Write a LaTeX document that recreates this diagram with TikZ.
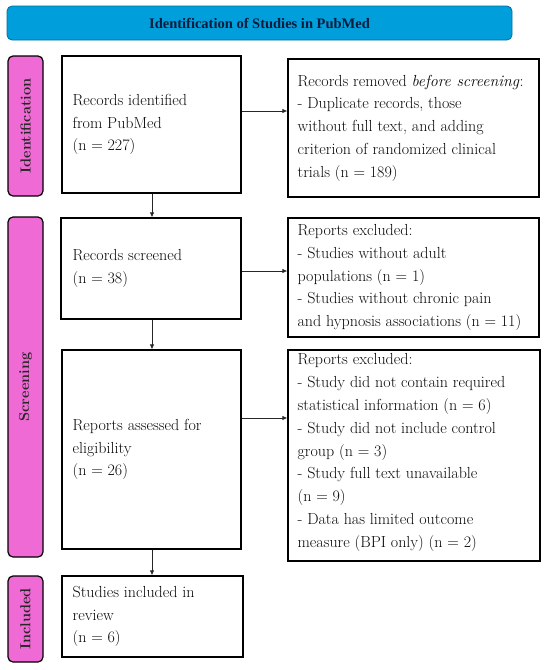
\documentclass[tikz,border=0pt]{standalone}
\usepackage{fontspec}
\newfontfamily\titlefont{Liberation Serif}
\usetikzlibrary{arrows.meta}
\definecolor{bannerblue}{RGB}{0,158,219}
\definecolor{bannerline}{RGB}{0,110,160}
\definecolor{stagepink}{RGB}{240,106,214}
\definecolor{titleink}{RGB}{12,28,60}
\definecolor{bodyink}{RGB}{10,10,10}
\tikzset{
  flowbox/.style={draw=black, line width=1.2pt, fill=white, inner sep=0pt},
  stagebar/.style={draw=black, line width=1.2pt, fill=stagepink, rounded corners=5pt, inner sep=0pt},
  stagelabel/.style={rotate=90, font=\fontsize{14.5}{16}\selectfont\bfseries, text=black!85},
  bodytext/.style={anchor=west, align=left, inner sep=0pt, text=bodyink,
    font=\fontsize{16}{22.8}\selectfont},
  flowarrow/.style={draw=black!85, line width=0.8pt, -{Latex[length=5pt,width=4.5pt]}}
}
\begin{document}
\begin{tikzpicture}[x=1pt,y=-1pt]
\useasboundingbox (0,0) rectangle (550,670);
% banner
\node[draw=bannerline, line width=0.8pt, fill=bannerblue, rounded corners=5pt,
  minimum width=505pt, minimum height=34pt, inner sep=0pt,
  font=\titlefont\fontsize{14.5}{16}\selectfont\bfseries, text=titleink]
  (banner) at (259.5,23) {Identification of Studies in PubMed};
% stage bars
\node[stagebar, minimum width=35pt, minimum height=140pt] (barid) at (25.5,126) {};
\node[stagelabel] (labid) at (barid.center) {Identification};
\node[stagebar, minimum width=35pt, minimum height=340pt] (barscr) at (25.5,387) {};
\node[stagelabel] (labscr) at (barscr.center) {Screening};
\node[stagebar, minimum width=35pt, minimum height=86pt] (barinc) at (25.5,619) {};
\node[stagelabel] (labinc) at (barinc.center) {Included};
% left boxes
\node[flowbox, minimum width=179pt, minimum height=137pt] (b1) at (151.5,124.5) {};
\node[bodytext] (t1) at ([xshift=11pt]b1.west) {Records identified\\from PubMed\\(n = 227)};
\node[flowbox, minimum width=180pt, minimum height=101pt] (b2) at (151,268.5) {};
\node[bodytext] (t2) at ([xshift=12pt]b2.west) {Records screened\\(n = 38)};
\node[flowbox, minimum width=179pt, minimum height=199pt] (b3) at (151.5,449.5) {};
\node[bodytext] (t3) at ([xshift=11pt]b3.west) {Reports assessed for\\eligibility\\(n = 26)};
\node[flowbox, minimum width=181pt, minimum height=81pt] (b4) at (152.5,616.5) {};
\node[bodytext] (t4) at ([xshift=11pt]b4.west) {Studies included in\\review\\(n = 6)};
% right boxes
\node[flowbox, minimum width=251pt, minimum height=138pt] (r1) at (413.5,128) {};
\node[bodytext] (u1) at ([xshift=10pt]r1.west) {Records removed \emph{before screening}:\\- Duplicate records, those\\without full text, and adding\\criterion of randomized clinical\\trials (n = 189)};
\node[flowbox, minimum width=251pt, minimum height=119pt] (r2) at (413.5,277.5) {};
\node[bodytext] (u2) at ([xshift=10pt]r2.west) {Reports excluded:\\- Studies without adult\\populations (n = 1)\\- Studies without chronic pain\\and hypnosis associations (n = 11)};
\node[flowbox, minimum width=252pt, minimum height=211pt] (r3) at (414,455.5) {};
\node[bodytext] (u3) at ([xshift=10pt,yshift=3pt]r3.west) {Reports excluded:\\- Study did not contain required\\statistical information (n = 6)\\- Study did not include control\\group (n = 3)\\- Study full text unavailable\\(n = 9)\\- Data has limited outcome\\measure (BPI only) (n = 2)};
% connector helper coordinates
\coordinate (vx) at (152,0);
\coordinate (h1) at (0,111);
\coordinate (h2) at (0,271);
\coordinate (h3) at (0,418);
% horizontal arrows
\draw[flowarrow] (b1.east |- h1) -- (r1.west |- h1);
\draw[flowarrow] (b2.east |- h2) -- (r2.west |- h2);
\draw[flowarrow] (b3.east |- h3) -- (r3.west |- h3);
% vertical arrows
\draw[flowarrow] (b1.south -| vx) -- (b2.north -| vx);
\draw[flowarrow] (b2.south -| vx) -- (b3.north -| vx);
\draw[flowarrow] (b3.south -| vx) -- (b4.north -| vx);
\end{tikzpicture}
\end{document}
